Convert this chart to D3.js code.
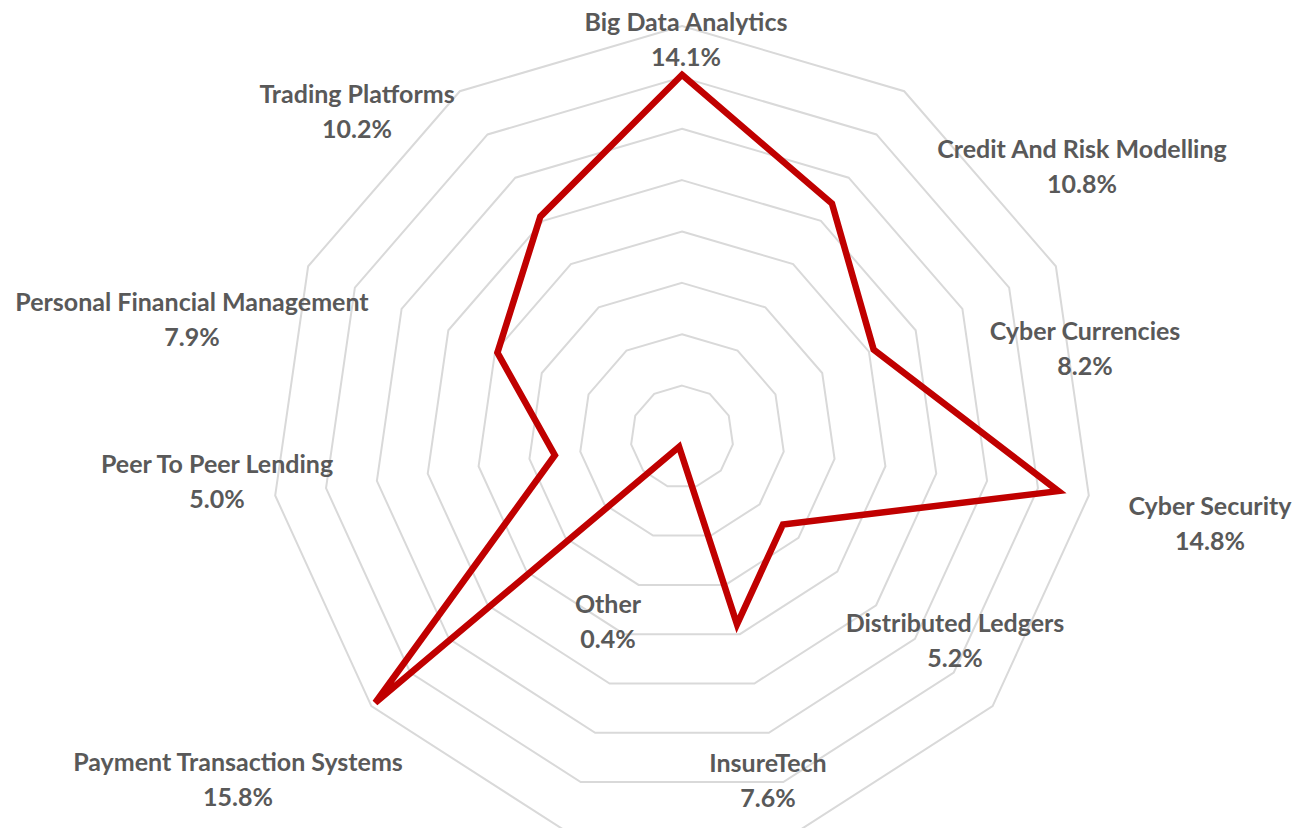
<!DOCTYPE html>
<html>
<head>
<meta charset="utf-8">
<script src="https://cdn.jsdelivr.net/npm/d3@7"></script>
<style>
  html, body { margin: 0; padding: 0; background: #ffffff; }
  svg { display: block; }
</style>
</head>
<body>
<svg id="chart" width="1306" height="828"></svg>
<script>
// ---- data ----
const categories = [
  "Big Data Analytics",
  "Credit And Risk Modelling",
  "Cyber Currencies",
  "Cyber Security",
  "Distributed Ledgers",
  "InsureTech",
  "Other",
  "Payment Transaction Systems",
  "Peer To Peer Lending",
  "Personal Financial Management",
  "Trading Platforms"
];
const values = [14.1, 10.8, 8.2, 14.8, 5.2, 7.6, 0.4, 15.8, 5.0, 7.9, 10.2];
const valueLabels = ["14.1%", "10.8%", "8.2%", "14.8%", "5.2%", "7.6%", "0.4%", "15.8%", "5.0%", "7.9%", "10.2%"];
const gridTicks = [2, 4, 6, 8, 10, 12, 14, 16];

// ---- layout (label placement relative to chart centre, px) ----
const labelOffsets = [
  [4, -397], [400, -270], [403, -88], [528, 87], [273, 204], [86, 344],
  [-74, 185], [-444, 343], [-465, 45], [-490, -117], [-325, -325]
];

const cx = 682, cy = 437;
const svg = d3.select("#chart");
const r = d3.scaleLinear().domain([0, 16]).range([0, 411]);
const n = categories.length;
const angle = d3.scaleLinear().domain([0, n]).range([0, 2 * Math.PI]);

const g = svg.append("g").attr("transform", `translate(${cx},${cy})`);

const radial = d3.lineRadial()
  .angle((d, i) => angle(i))
  .radius(d => r(d))
  .curve(d3.curveLinearClosed);

// grid rings
g.selectAll("path.grid")
  .data(gridTicks)
  .join("path")
  .attr("class", "grid")
  .attr("d", t => radial(d3.range(n).map(() => t)))
  .attr("fill", "none")
  .attr("stroke", "#d9d9d9")
  .attr("stroke-width", 2);

// series
g.append("path")
  .attr("d", radial(values))
  .attr("fill", "none")
  .attr("stroke", "#c00000")
  .attr("stroke-width", 6.5)
  .attr("stroke-linejoin", "miter");

// labels
const lbl = g.selectAll("text.lbl")
  .data(categories)
  .join("text")
  .attr("class", "lbl")
  .attr("text-anchor", "middle")
  .attr("font-family", "Lato, 'Open Sans', sans-serif")
  .attr("font-weight", "bold")
  .attr("font-size", 25)
  .attr("fill", "#595959")
  .attr("transform", (d, i) => `translate(${labelOffsets[i][0]},${labelOffsets[i][1]})`);

lbl.append("tspan").attr("x", 0).attr("y", -9).text(d => d);
lbl.append("tspan").attr("x", 0).attr("y", 26).text((d, i) => valueLabels[i]);
</script>
</body>
</html>
